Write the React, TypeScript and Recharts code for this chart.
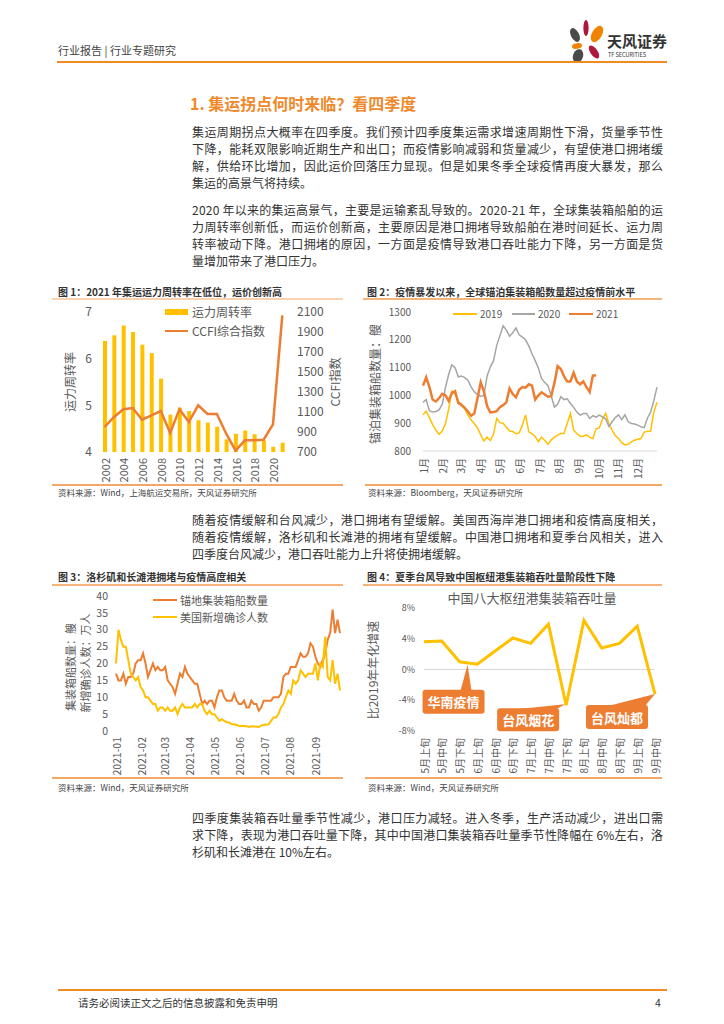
import React from "react";
import {
  ComposedChart,
  LineChart,
  Bar,
  Line,
  XAxis,
  YAxis,
  ReferenceLine,
  ReferenceDot,
} from "recharts";

const FONT = '"Noto Sans CJK SC", "Noto Sans", sans-serif';
const YELLOW = "#FFC000";
const ORANGE = "#ED7D31";
const GREY = "#A5A5A5";
const TICK = "#595959";
const BODY = "#333333";
const RULE = "#F08A24";

// ---- 图1 运力周转率 / CCFI ----
const years = [
  "2002", "2003", "2004", "2005", "2006", "2007", "2008", "2009", "2010", "2011",
  "2012", "2013", "2014", "2015", "2016", "2017", "2018", "2019", "2020", "2021",
];
const turnoverRate = [
  6.38, 6.5, 6.71, 6.57, 6.3, 6.12, 5.57, 4.8, 4.95, 4.88,
  4.68, 4.63, 4.54, 4.27, 4.39, 4.46, 4.38, 4.25, 4.11, 4.2,
];
const ccfiIndex = [
  950, 1050, 1127, 1140, 1023, 1067, 1110, 890, 1127, 1000,
  1167, 1080, 1080, 883, 713, 817, 817, 823, 977, 2067,
];

// ---- 图2 锚泊集装箱船数量（每5天取一个点） ----
const STEP2 = 5;
const anchored2019 = [
  930, 943, 920, 895, 875, 860, 872, 898, 950, 1016,
  1005, 980, 963, 952, 929, 911, 899, 883, 858, 836,
  850, 838, 860, 917, 902, 900, 885, 872, 870, 862,
  865, 893, 930, 869, 862, 852, 834, 850, 838, 824,
  840, 850, 857, 863, 863, 900, 935, 875, 863, 853,
  853, 858, 850, 845, 880, 883, 915, 935, 897, 875,
  855, 845, 830, 822, 824, 833, 839, 842, 845, 868,
  870, 872, 940, 975,
];
const anchored2020 = [
  975, 985, 945, 940, 942, 948, 968, 1028, 1075, 1110,
  1100, 1067, 1070, 1064, 1055, 1031, 1013, 1003, 996, 1000,
  1070, 1102, 1125, 1180, 1215, 1250, 1235, 1213, 1225, 1242,
  1218, 1210, 1200, 1178, 1150, 1125, 1098, 1060, 1046, 1035,
  998, 958, 968, 995, 985, 988, 971, 957, 940, 929,
  935, 935, 917, 927, 922, 929, 923, 915, 888, 905,
  920, 930, 913, 930, 905, 899, 897, 893, 887, 884,
  918, 940, 980, 1030,
];
const anchored2021 = [
  1035, 1065, 1030, 985, 978, 990, 1006, 1001, 980, 1008,
  1015, 973, 966, 955, 942, 927, 935, 990, 1047, 1015,
  962, 939, 940, 943, 958, 965, 975, 1025, 1005, 993,
  1020, 1030, 1028, 1040, 1035, 985, 1000, 1011, 1003, 995,
  997, 1045, 1105, 1095, 1068, 1050, 1050, 1082, 1050, 1040,
  1050, 1030, 1012, 1072, 1072,
];
const monthStarts = [0, 31, 59, 90, 120, 151, 181, 212, 243, 273, 304, 334];
const monthLabels = ["1月", "2月", "3月", "4月", "5月", "6月", "7月", "8月", "9月", "10月", "11月", "12月"];

// ---- 图3 洛杉矶/长滩（每3天取一个点） ----
const STEP3 = 3;
const laShips = [
  17, 15, 15, 17, 14, 16, 16, 17, 20, 21,
  21, 23, 20, 16, 18, 20, 18, 19, 18, 18,
  19, 15, 14, 13, 11, 14, 17, 16, 19, 17,
  16, 15, 14, 14, 11, 8, 9, 8, 9, 9,
  7, 10, 12, 12, 10, 9, 9, 9, 11, 9,
  8, 8, 9, 7, 7, 9, 8, 8, 6, 7,
  9, 9, 9, 9, 10, 10, 10, 11, 16, 17,
  17, 19, 19, 19, 21, 23, 22, 22, 23, 26,
  25, 22, 20, 19, 21, 23, 27, 29, 36, 29,
  33, 29,
];
const usCases = [
  20, 30, 27, 25, 25, 21, 17, 16, 15, 16,
  13, 12, 10, 10, 9, 8, 8, 6, 7, 7,
  6, 7, 6, 6, 7, 5, 7, 8, 7, 7,
  7, 7, 8, 7, 8, 8, 6, 5, 6, 5,
  5, 4, 3, 3.5, 3, 2.6, 2.5, 2, 2, 1.8,
  1.5, 1.5, 1.5, 1.4, 1.2, 1.4, 1.3, 1.3, 1.2, 1.6,
  1.8, 1.9, 2, 3, 4, 4, 5, 7, 8, 10,
  12, 11, 15, 14, 15, 18, 17, 16, 17, 17,
  17, 20, 15, 20, 19, 28, 16, 15, 21, 14,
  17, 12,
];
const laTicks = [0, 31, 59, 90, 120, 151, 181, 212, 243];
const laLabels = ["2021-01", "2021-02", "2021-03", "2021-04", "2021-05", "2021-06", "2021-07", "2021-08", "2021-09"];

// ---- 图4 八大枢纽港吞吐量 ----
const periods = [
  "5月上旬", "5月中旬", "5月下旬", "6月上旬", "6月中旬", "6月下旬", "7月上旬",
  "7月中旬", "7月下旬", "8月上旬", "8月中旬", "8月下旬", "9月上旬", "9月中旬",
];
const growth = [3.6, 3.7, 1.0, 0.7, 2.4, 4.1, 3.4, 5.9, -4.65, 6.4, 2.8, 3.4, 5.65, -3.2];

const fig1Data = years.map((y, i) => ({ year: y, t: turnoverRate[i], c: ccfiIndex[i] }));
const fig2Data = anchored2019.map((v, i) => ({
  d: i * STEP2,
  a: v,
  b: anchored2020[i],
  c: anchored2021[i],
}));
const fig3Data = laShips.map((v, i) => ({ d: i * STEP3, s: v, u: usCases[i] }));
const fig4Data = periods.map((p, i) => ({ p, g: growth[i] }));

type Callout = {
  at: string;
  text: string;
  box: [number, number, number, number];
  tail: [number, number, number];
  tip: [number, number];
};
const callouts: Callout[] = [
  { at: "5月下旬", text: "华南疫情", box: [-37, 28, 62, 24], tail: [1, 12, 29], tip: [8, 3] },
  { at: "7月下旬", text: "台风烟花", box: [-69, 3, 62, 23], tail: [-50, -10, 4], tip: [-1, -1] },
  { at: "9月中旬", text: "台风灿都", box: [-69, 11, 62, 24], tail: [-47, -10, 12], tip: [0, 0] },
];

function Txt(props: any) {
  const { x, y, size, color = BODY, bold, children, center, rotate } = props;
  const tf = rotate
    ? "translate(-50%, -50%) rotate(-90deg)"
    : center
    ? "translate(-50%, -50%)"
    : "translateY(-50%)";
  return (
    <div
      style={{
        position: "absolute",
        left: x,
        top: y,
        transform: tf,
        fontSize: size,
        lineHeight: 1,
        color,
        fontWeight: bold ? 700 : 400,
        whiteSpace: "nowrap",
      }}
    >
      {children}
    </div>
  );
}

function Rule({ x1, x2, y, h = 2, color = RULE }: any) {
  return (
    <div
      style={{ position: "absolute", left: x1, top: y - h / 2, width: x2 - x1, height: h, background: color }}
    />
  );
}

function BodyLine({ y, text, full = true }: any) {
  const extra = full ? { textLength: 471, lengthAdjust: "spacing" } : {};
  return (
    <svg width={471} height={18} style={{ position: "absolute", left: 192, top: y - 9, overflow: "visible" }}>
      <text x={0} y={13.6} fontSize={12} fill={BODY} {...extra}>
        {text}
      </text>
    </svg>
  );
}

function LegendLine({ x, y, color, w = 24, h = 2, label, size, gap = 4 }: any) {
  return (
    <>
      <div style={{ position: "absolute", left: x, top: y - h / 2, width: w, height: h, background: color }} />
      <Txt x={x + w + gap} y={y} size={size} color={TICK}>
        {label}
      </Txt>
    </>
  );
}

const RotTick = (p: any) => {
  const { x, y, payload, fs, fmt } = p;
  const label = fmt ? fmt(payload.value) : payload.value;
  return (
    <text
      x={x}
      y={y}
      transform={`rotate(-90 ${x} ${y})`}
      textAnchor="end"
      dominantBaseline="central"
      fontSize={fs}
      fill={TICK}
    >
      {label}
    </text>
  );
};

const renderCallout = (c: Callout) => (p: any) => {
  const { cx, cy } = p;
  const [bx, by, bw, bh] = c.box;
  const [t1, t2, ty] = c.tail;
  return (
    <g>
      <polygon
        points={`${cx + t1},${cy + ty} ${cx + t2},${cy + ty} ${cx + c.tip[0]},${cy + c.tip[1]}`}
        fill={ORANGE}
      />
      <rect x={cx + bx} y={cy + by} width={bw} height={bh} rx={3} fill={ORANGE} />
      <text
        x={cx + bx + bw / 2}
        y={cy + by + bh / 2}
        textAnchor="middle"
        dominantBaseline="central"
        fill="#fff"
        fontSize={13}
        fontWeight={700}
      >
        {c.text}
      </text>
    </g>
  );
};

function Logo() {
  return (
    <svg width={40} height={44} style={{ position: "absolute", left: 566, top: 19 }}>
      <ellipse cx={20} cy={9} rx={2.6} ry={8} fill="#B0173F" />
      <ellipse cx={31} cy={15} rx={5} ry={9} fill="#F08300" transform="rotate(30 31 15)" />
      <ellipse cx={9} cy={16} rx={4} ry={7.5} fill="#4A4A4A" transform="rotate(-28 9 16)" />
      <ellipse cx={11} cy={27} rx={5} ry={2.8} fill="#F08300" transform="rotate(-8 11 27)" />
      <ellipse cx={12} cy={37} rx={5} ry={7} fill="#4A4A4A" transform="rotate(18 12 37)" />
      <ellipse cx={28} cy={33} rx={3.6} ry={7.5} fill="#B0173F" transform="rotate(-35 28 33)" />
    </svg>
  );
}

export default function App() {
  return (
    <div
      style={{
        position: "relative",
        width: 724,
        height: 1024,
        margin: -8,
        background: "#fff",
        overflow: "hidden",
        fontFamily: FONT,
      }}
    >
      {/* header */}
      <Txt x={58} y={50} size={11} color="#444">
        行业报告 | 行业专题研究
      </Txt>
      <Logo />
      <Txt x={607} y={40} size={15} bold color="#333">
        天风证券
      </Txt>
      <Txt x={608} y={56} size={5.5} color="#333">
        TF SECURITIES
      </Txt>
      <Rule x1={57} x2={667} y={62} h={2} />

      <Txt x={190} y={103} size={16} bold color="#EE8A2C">
        1. 集运拐点何时来临？看四季度
      </Txt>

      <BodyLine y={132} text="集运周期拐点大概率在四季度。我们预计四季度集运需求增速周期性下滑，货量季节性" />
      <BodyLine y={149} text="下降，能耗双限影响近期生产和出口；而疫情影响减弱和货量减少，有望使港口拥堵缓" />
      <BodyLine y={166} text="解，供给环比增加，因此运价回落压力显现。但是如果冬季全球疫情再度大暴发，那么" />
      <BodyLine y={183} text="集运的高景气将持续。" full={false} />

      <BodyLine y={210} text="2020 年以来的集运高景气，主要是运输紊乱导致的。2020-21 年，全球集装箱船舶的运" />
      <BodyLine y={227} text="力周转率创新低，而运价创新高，主要原因是港口拥堵导致船舶在港时间延长、运力周" />
      <BodyLine y={244} text="转率被动下降。港口拥堵的原因，一方面是疫情导致港口吞吐能力下降，另一方面是货" />
      <BodyLine y={261} text="量增加带来了港口压力。" full={false} />

      {/* figure 1 */}
      <Txt x={58} y={292} size={10} bold color="#333">
        图 1：2021 年集运运力周转率在低位，运价创新高
      </Txt>
      <Rule x1={52} x2={343} y={299} h={2} color="#F9D3B0" />
      <div style={{ position: "absolute", left: 40, top: 300 }}>
        <ComposedChart width={312} height={185} data={fig1Data} margin={{ top: 12, right: 0, bottom: 0, left: 0 }}>
          <XAxis
            dataKey="year"
            interval={1}
            axisLine={false}
            tickLine={false}
            tickSize={0}
            tickMargin={6}
            height={33}
            tick={(p: any) => <RotTick {...p} fs={11} />}
          />
          <YAxis
            yAxisId="l"
            domain={[4, 7]}
            ticks={[4, 5, 6, 7]}
            interval={0}
            axisLine={false}
            tickLine={false}
            tickSize={0}
            tickMargin={8}
            width={60}
            tick={{ fontSize: 12, fill: TICK }}
          />
          <YAxis
            yAxisId="r"
            orientation="right"
            domain={[700, 2100]}
            ticks={[700, 900, 1100, 1300, 1500, 1700, 1900, 2100]}
            interval={0}
            axisLine={false}
            tickLine={false}
            tickSize={0}
            tickMargin={10}
            width={65}
            tick={{ fontSize: 12, fill: TICK }}
          />
          <Bar yAxisId="l" dataKey="t" fill={YELLOW} barSize={4} isAnimationActive={false} />
          <Line
            yAxisId="r"
            dataKey="c"
            stroke={ORANGE}
            strokeWidth={2.5}
            dot={false}
            type="linear"
            isAnimationActive={false}
          />
        </ComposedChart>
      </div>
      <Txt x={70} y={382} size={12} color={TICK} rotate>
        运力周转率
      </Txt>
      <Txt x={335} y={382} size={12} color={TICK} rotate>
        CCFI指数
      </Txt>
      <div style={{ position: "absolute", left: 165, top: 309, width: 23, height: 6, background: YELLOW }} />
      <Txt x={192} y={312} size={12} color={TICK}>
        运力周转率
      </Txt>
      <LegendLine x={165} y={331} w={23} h={2.5} color={ORANGE} label="CCFI综合指数" size={12} />
      <Rule x1={52} x2={343} y={485} h={1.5} color="#F4A866" />
      <Txt x={58} y={492} size={8.5} color="#444">
        资料来源：Wind，上海航运交易所，天风证券研究所
      </Txt>

      {/* figure 2 */}
      <Txt x={367} y={292} size={10} bold color="#333">
        图 2：疫情暴发以来，全球锚泊集装箱船数量超过疫情前水平
      </Txt>
      <Rule x1={363} x2={662} y={299} h={2} color="#F5B47A" />
      <div style={{ position: "absolute", left: 363, top: 300 }}>
        <LineChart width={313} height={185} data={fig2Data} margin={{ top: 12, right: 19, bottom: 0, left: 0 }}>
          <XAxis
            dataKey="d"
            type="number"
            domain={[0, 365]}
            ticks={monthStarts}
            interval={0}
            axisLine={{ stroke: "#D9D9D9" }}
            tickLine={false}
            tickSize={0}
            tickMargin={7}
            height={34}
            tick={(p: any) => (
              <RotTick {...p} fs={10} fmt={(v: number) => monthLabels[monthStarts.indexOf(v)]} />
            )}
          />
          <YAxis
            domain={[800, 1300]}
            ticks={[800, 900, 1000, 1100, 1200, 1300]}
            interval={0}
            axisLine={false}
            tickLine={false}
            tickSize={0}
            tickMargin={12}
            width={60}
            tick={{ fontSize: 10, fill: TICK }}
          />
          <Line dataKey="a" stroke={YELLOW} strokeWidth={1.5} dot={false} type="linear" isAnimationActive={false} />
          <Line dataKey="b" stroke={GREY} strokeWidth={1.5} dot={false} type="linear" isAnimationActive={false} />
          <Line dataKey="c" stroke={ORANGE} strokeWidth={2.5} dot={false} type="linear" isAnimationActive={false} />
        </LineChart>
      </div>
      <Txt x={375} y={384} size={12} color={TICK} rotate>
        锚泊集装箱船数量：艘
      </Txt>
      <LegendLine x={453} y={314} color={YELLOW} w={24} h={1.5} label="2019" size={10} gap={3} />
      <LegendLine x={512} y={314} color={GREY} w={23} h={1.5} label="2020" size={10} gap={3} />
      <LegendLine x={569} y={314} color={ORANGE} w={24} h={2.5} label="2021" size={10} gap={3} />
      <Rule x1={365} x2={662} y={485} h={1.5} color="#F4A866" />
      <Txt x={368} y={492} size={8.5} color="#444">
        资料来源：Bloomberg，天风证券研究所
      </Txt>

      <BodyLine y={520} text="随着疫情缓解和台风减少，港口拥堵有望缓解。美国西海岸港口拥堵和疫情高度相关，" />
      <BodyLine y={537} text="随着疫情缓解，洛杉矶和长滩港的拥堵有望缓解。中国港口拥堵和夏季台风相关，进入" />
      <BodyLine y={554} text="四季度台风减少，港口吞吐能力上升将使拥堵缓解。" full={false} />

      {/* figure 3 */}
      <Txt x={58} y={577} size={10} bold color="#333">
        图 3：洛杉矶和长滩港拥堵与疫情高度相关
      </Txt>
      <Rule x1={52} x2={343} y={585} h={2} color="#F5B47A" />
      <div style={{ position: "absolute", left: 40, top: 586 }}>
        <LineChart width={312} height={192} data={fig3Data} margin={{ top: 10, right: 12, bottom: 0, left: 0 }}>
          <XAxis
            dataKey="d"
            type="number"
            domain={[0, 273]}
            ticks={laTicks}
            interval={0}
            axisLine={false}
            tickLine={false}
            tickSize={0}
            tickMargin={6}
            height={47}
            tick={(p: any) => <RotTick {...p} fs={10.5} fmt={(v: number) => laLabels[laTicks.indexOf(v)]} />}
          />
          <YAxis
            domain={[0, 40]}
            ticks={[0, 5, 10, 15, 20, 25, 30, 35, 40]}
            interval={0}
            axisLine={false}
            tickLine={false}
            tickSize={0}
            tickMargin={8}
            width={76}
            tick={{ fontSize: 10.5, fill: TICK }}
          />
          <Line dataKey="s" stroke={ORANGE} strokeWidth={2} dot={false} type="linear" isAnimationActive={false} />
          <Line dataKey="u" stroke={YELLOW} strokeWidth={2} dot={false} type="linear" isAnimationActive={false} />
        </LineChart>
      </div>
      <Txt x={70} y={667} size={11} color={TICK} rotate>
        集装箱船数量：艘
      </Txt>
      <Txt x={85} y={663} size={11} color={TICK} rotate>
        新增确诊人数：万人
      </Txt>
      <LegendLine x={153} y={600} color={ORANGE} w={24} h={2.5} label="锚地集装箱船数量" size={11} gap={3} />
      <LegendLine x={153} y={617} color={YELLOW} w={24} h={2.5} label="美国新增确诊人数" size={11} gap={3} />
      <Rule x1={52} x2={343} y={778} h={1.5} color="#F4A866" />
      <Txt x={58} y={787} size={8.5} color="#444">
        资料来源：Wind，天风证券研究所
      </Txt>

      {/* figure 4 */}
      <Txt x={367} y={577} size={10} bold color="#333">
        图 4：夏季台风导致中国枢纽港集装箱吞吐量阶段性下降
      </Txt>
      <Rule x1={363} x2={662} y={585} h={2} color="#F5B47A" />
      <div style={{ position: "absolute", left: 363, top: 590 }}>
        <LineChart width={313} height={188} data={fig4Data} margin={{ top: 18, right: 21, bottom: 0, left: 0 }}>
          <XAxis
            dataKey="p"
            interval={0}
            axisLine={false}
            tickLine={false}
            tickSize={0}
            tickMargin={7}
            height={47}
            tick={(p: any) => <RotTick {...p} fs={10} />}
          />
          <YAxis
            domain={[-8, 8]}
            ticks={[-8, -4, 0, 4, 8]}
            interval={0}
            tickFormatter={(v: number) => `${v}%`}
            axisLine={false}
            tickLine={false}
            tickSize={0}
            tickMargin={9}
            width={61}
            tick={{ fontSize: 9, fill: TICK }}
          />
          <ReferenceLine y={0} stroke="#D9D9D9" strokeWidth={1} />
          <Line dataKey="g" stroke={YELLOW} strokeWidth={3} dot={false} type="linear" isAnimationActive={false} />
          {callouts.map((c) => (
            <ReferenceDot
              key={c.text}
              x={c.at}
              y={growth[periods.indexOf(c.at)]}
              r={1}
              ifOverflow="visible"
              shape={renderCallout(c)}
            />
          ))}
        </LineChart>
      </div>
      <Txt x={532} y={597} size={13} color={TICK} center>
        中国八大枢纽港集装箱吞吐量
      </Txt>
      <Txt x={373} y={670} size={12} color={TICK} rotate>
        比2019年年化增速
      </Txt>
      <Rule x1={365} x2={662} y={778} h={1.5} color="#F4A866" />
      <Txt x={368} y={787} size={8.5} color="#444">
        资料来源：Wind，天风证券研究所
      </Txt>

      <BodyLine y={818} text="四季度集装箱吞吐量季节性减少，港口压力减轻。进入冬季，生产活动减少，进出口需" />
      <BodyLine y={835} text="求下降，表现为港口吞吐量下降，其中中国港口集装箱吞吐量季节性降幅在 6%左右，洛" />
      <BodyLine y={852} text="杉矶和长滩港在 10%左右。" full={false} />

      {/* footer */}
      <Rule x1={58} x2={667} y={990} h={2} />
      <Txt x={78} y={1003} size={10.5} color="#333">
        请务必阅读正文之后的信息披露和免责申明
      </Txt>
      <Txt x={655} y={1003} size={10.5} color="#333">
        4
      </Txt>
    </div>
  );
}
